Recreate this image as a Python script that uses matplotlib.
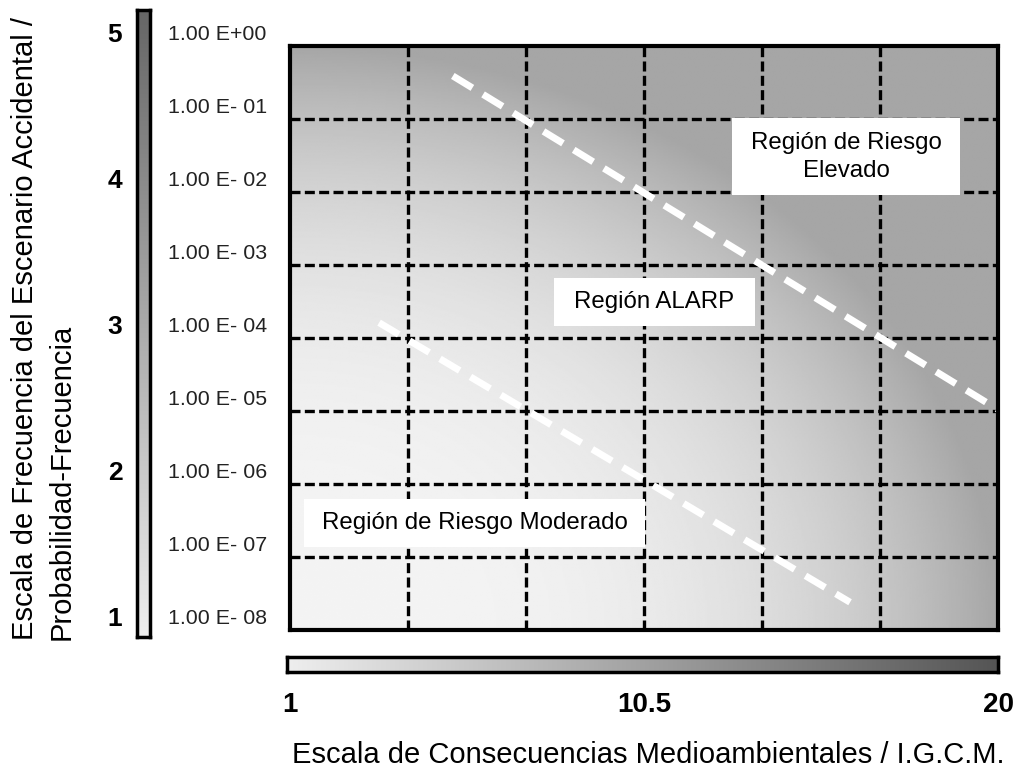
import numpy as np
import matplotlib
matplotlib.use("Agg")
import matplotlib.pyplot as plt
from matplotlib.colors import LinearSegmentedColormap
from matplotlib.patches import Rectangle

plt.rcParams['font.family'] = ['Liberation Sans', 'DejaVu Sans']

# consequence scale (I.G.C.M.) and frequency exponents
x_min, x_max = 1, 20
n_cols = 6
x_tick_values = [1, 10.5, 20]
freq_exponents = [0, -1, -2, -3, -4, -5, -6, -7, -8]
freq_labels = ["1.00 E+00", "1.00 E- 01", "1.00 E- 02", "1.00 E- 03", "1.00 E- 04",
               "1.00 E- 05", "1.00 E- 06", "1.00 E- 07", "1.00 E- 08"]
prob_levels = [5, 4, 3, 2, 1]
prob_exponents = [0, -2, -4, -6, -8]

# risk boundaries (consequence, log10 frequency)
upper_x = [5.37, 20.0]
upper_y = [-0.41, -4.98]
lower_x = [3.39, 16.03]
lower_y = [-3.79, -7.62]

regions = ["Región de Riesgo\nElevado", "Región ALARP", "Región de Riesgo Moderado"]

fig = plt.figure(figsize=(10.18, 7.74), dpi=100)
ax = fig.add_axes([290/1018, 1-630/774, 708/1018, 584/774])

# background shading, light towards low consequence / low frequency
u = np.linspace(0, 1, 400)
v = np.linspace(0, 1, 400)
U, V = np.meshgrid(u, v)
r = np.clip(np.sqrt(U**2 + V**2), 0, 1)
shade = 244 - 78*r**3
ax.imshow(shade, cmap='gray', vmin=0, vmax=255, origin='lower',
          extent=[x_min, x_max, freq_exponents[-1], freq_exponents[0]],
          aspect='auto', interpolation='bilinear', zorder=0)

col_edges = np.linspace(x_min, x_max, n_cols + 1)
for xc in col_edges[1:-1]:
    ax.axvline(xc, color='black', lw=2.4, ls=(0, (3, 1.3)), zorder=2)
for yr in freq_exponents[1:-1]:
    ax.axhline(yr, color='black', lw=2.4, ls=(0, (3, 1.3)), zorder=2)

ax.plot(upper_x, upper_y, color='white', lw=5, ls=(0, (3.3, 1.8)), zorder=3)
ax.plot(lower_x, lower_y, color='white', lw=5, ls=(0, (3.3, 1.8)), zorder=3)

# label boxes
boxes = [(12.86, -2.04, 6.12, 1.05), (8.08, -3.84, 5.40, 0.66), (1.38, -6.86, 9.15, 0.66)]
centers = [(15.92, -1.52), (10.77, -3.51), (5.96, -6.53)]
for (bx, by, bw, bh), (cx, cy), txt in zip(boxes, centers, regions):
    ax.add_patch(Rectangle((bx, by), bw, bh, facecolor='white', edgecolor='none', zorder=4))
    ax.text(cx, cy, txt, ha='center', va='center', fontsize=17.3, zorder=5,
            linespacing=1.4)

ax.set_xlim(x_min, x_max)
ax.set_ylim(freq_exponents[-1], freq_exponents[0])
ax.set_xticks([])
ax.set_yticks([])
for s in ax.spines.values():
    s.set_linewidth(3)
    s.set_zorder(6)

# frequency labels and probability levels
for e, lab in zip(freq_exponents, freq_labels):
    ax.annotate(lab, xy=(168/1018, e), xycoords=('figure fraction', 'data'),
                xytext=(0, 8), textcoords='offset points', ha='left', va='center',
                fontsize=15.4, color='#222222', annotation_clip=False)
for lvl, e in zip(prob_levels, prob_exponents):
    ax.annotate(str(lvl), xy=(115/1018, e), xycoords=('figure fraction', 'data'),
                xytext=(0, 8), textcoords='offset points', ha='center', va='center',
                fontsize=19, fontweight='bold', annotation_clip=False)

# vertical probability bar
cb_v = fig.add_axes([137/1018, 1-637/774, 13/1018, 627/774])
cmap_v = LinearSegmentedColormap.from_list('pv', ['#eeeeee', '#666666'])
cb_v.imshow(np.linspace(0, 1, 256).reshape(-1, 1), cmap=cmap_v, origin='lower',
            aspect='auto')
cb_v.set_xticks([])
cb_v.set_yticks([])
for s in cb_v.spines.values():
    s.set_linewidth(2.5)

# horizontal consequence bar
cb_h = fig.add_axes([287/1018, 1-672/774, 711/1018, 15/774])
cmap_h = LinearSegmentedColormap.from_list('ph', ['#eeeeee', '#555555'])
cb_h.imshow(np.linspace(0, 1, 256).reshape(1, -1), cmap=cmap_h, aspect='auto')
cb_h.set_xticks([])
cb_h.set_yticks([])
for s in cb_h.spines.values():
    s.set_linewidth(2.5)

for xv in x_tick_values:
    ax.annotate(f"{xv:g}", xy=(xv, 1-705/774), xycoords=('data', 'figure fraction'),
                ha='center', va='center', fontsize=20, fontweight='bold',
                annotation_clip=False)

fig.text(648/1018, 1-755/774, "Escala de Consecuencias Medioambientales / I.G.C.M.",
         ha='center', va='center', fontsize=21)
fig.text(25/1018, 1-640/774, "Escala de Frecuencia del Escenario Accidental /",
         rotation=90, ha='center', va='bottom', fontsize=21)
fig.text(62/1018, 1-640/774, "Probabilidad-Frecuencia",
         rotation=90, ha='center', va='bottom', fontsize=21)

fig.savefig("out.png", dpi=100)
